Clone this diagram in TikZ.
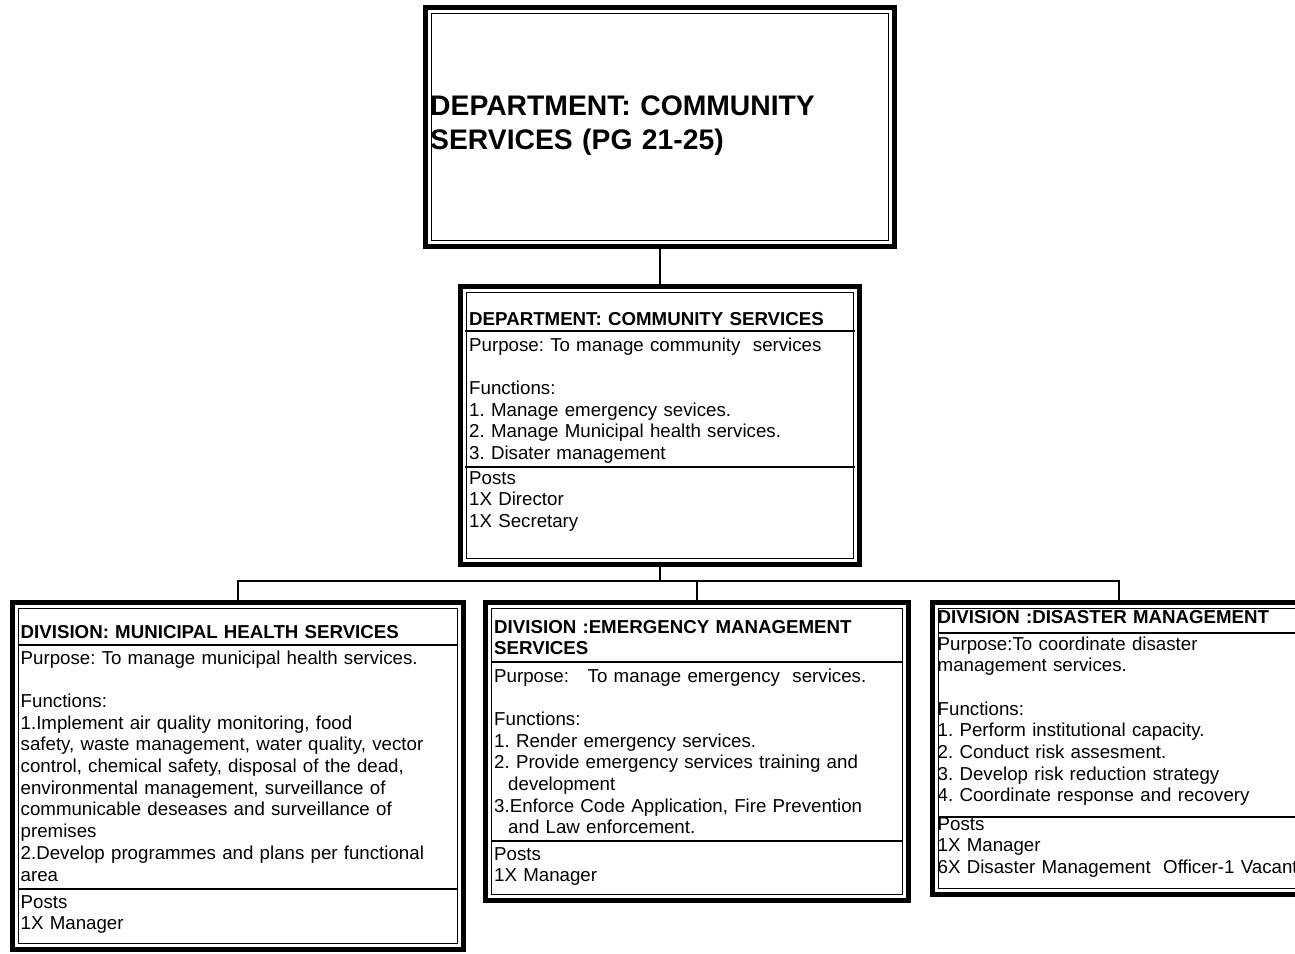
\documentclass[tikz,border=0pt]{standalone}
\usepackage{fontspec}
\setmainfont{Liberation Sans}
\usetikzlibrary{positioning}
\newcommand{\bodyfont}{\fontsize{18.7}{21.7}\selectfont}
\newcommand{\innerrule}[1]{%
  \draw[rule] ([shift={(8.5,8.5)}]#1.north west) rectangle ([shift={(-8.5,-8.5)}]#1.south east);}
\frenchspacing

\begin{document}
\begin{tikzpicture}[
  x=1pt, y=-1pt,
  frame/.style={draw, line width=5pt, inner sep=0pt, fill=white},
  rule/.style={draw, line width=1.4pt},
  link/.style={draw, line width=1.3pt},
  head/.style={anchor=base west, inner sep=0pt, font=\bodyfont\bfseries,
               text width=#1, align=left},
  body/.style={anchor=base west, inner sep=0pt, font=\bodyfont,
               text width=#1, align=left}
]
\useasboundingbox (0,0) rectangle (1295,953);
\clip (0,0) rectangle (1295,953);

%% Pixel coordinates, y grows downwards; frame sizes leave out the 5pt rule.
%% ---- department title ------------------------------------------------------
\node[frame, minimum width=469, minimum height=239] (top) at (660,127) {};
\innerrule{top}
\node[anchor=base west, inner sep=0pt, text width=450, align=left,
      font=\fontsize{28.3}{34}\selectfont\bfseries] (toptitle) at (430,115)
  {DEPARTMENT: COMMUNITY\\SERVICES (PG 21-25)};

%% ---- department ------------------------------------------------------------
\node[frame, minimum width=399, minimum height=278] (dept) at (660,425.5) {};
\innerrule{dept}
\node[head=385] (depthead) at (469,325) {DEPARTMENT: COMMUNITY SERVICES};
\node[body=385] (deptbody) at (469,351)
  {Purpose: To manage community~ services\\[21.7pt]
   Functions:\\
   1. Manage emergency sevices.\\
   2. Manage Municipal health services.\\
   3. Disater management};
\node[body=385] (deptposts) at (469,484)
  {Posts\\1X Director\\1X Secretary};
\draw[rule] (465,331) -- (855,331);
\draw[rule] (465,467) -- (855,467);

%% ---- municipal health division ----------------------------------------------
\node[frame, minimum width=451, minimum height=347] (health) at (238,776) {};
\innerrule{health}
\node[head=430] (healthhead) at (20.5,638) {DIVISION: MUNICIPAL HEALTH SERVICES};
\node[body=430] (healthbody) at (20.5,664)
  {Purpose: To manage municipal health services.\\[21.7pt]
   Functions:\\
   1.Implement air quality monitoring, food\\
   safety, waste management, water quality, vector\\
   control, chemical safety, disposal of the dead,\\
   environmental management, surveillance of\\
   communicable deseases and surveillance of\\
   premises\\
   2.Develop programmes and plans per functional\\
   area};
\node[body=430] (healthposts) at (20.5,908) {Posts\\1X Manager};
\draw[rule] (18,645) -- (458,645);
\draw[rule] (18,889) -- (458,889);

%% ---- emergency management division -------------------------------------------
\node[frame, minimum width=423, minimum height=298] (emerg) at (697,751.5) {};
\innerrule{emerg}
\node[head=405] (emerghead) at (494,633) {DIVISION :EMERGENCY MANAGEMENT\\SERVICES};
\node[body=405] (emergbody) at (494,682)
  {Purpose:~~~To manage emergency~ services.\\[21.7pt]
   Functions:\\
   1. Render emergency services.\\
   2. Provide emergency services training and\\
   \hspace*{14pt}development\\
   3.Enforce Code Application, Fire Prevention\\
   \hspace*{14pt}and Law enforcement.};
\node[body=405] (emergposts) at (494,860) {Posts\\1X Manager};
\draw[rule] (491,662) -- (903,662);
\draw[rule] (491,841) -- (903,841);

%% ---- disaster management division (runs past the right edge) ------------------
\node[frame, minimum width=373, minimum height=292] (disaster) at (1119,748.5) {};
\innerrule{disaster}
\node[head=500] (disasterhead) at (937.5,623) {DIVISION :DISASTER MANAGEMENT};
\node[body=500] (disasterbody) at (937.5,650)
  {Purpose:To coordinate disaster\\
   management services.\\[21.7pt]
   Functions:\\
   1. Perform institutional capacity.\\
   2. Conduct risk assesment.\\
   3. Develop risk reduction strategy\\
   4. Coordinate response and recovery};
\node[body=500] (disasterposts) at (937.5,830)
  {Posts\\1X Manager\\6X Disaster Management~ Officer-1 Vacant};
\draw[rule] (938,633) -- (1300,633);
\draw[rule] (938,817) -- (1300,817);

%% ---- reporting lines ------------------------------------------------------------
\draw[link] (top.south) -- (dept.north);
\draw[link] (dept.south) -- ++(0,14) -| (health.north);
\draw[link] (dept.south) -- ++(0,14) -| (emerg.north);
\draw[link] (dept.south) -- ++(0,14) -| (disaster.north);

\end{tikzpicture}
\end{document}
